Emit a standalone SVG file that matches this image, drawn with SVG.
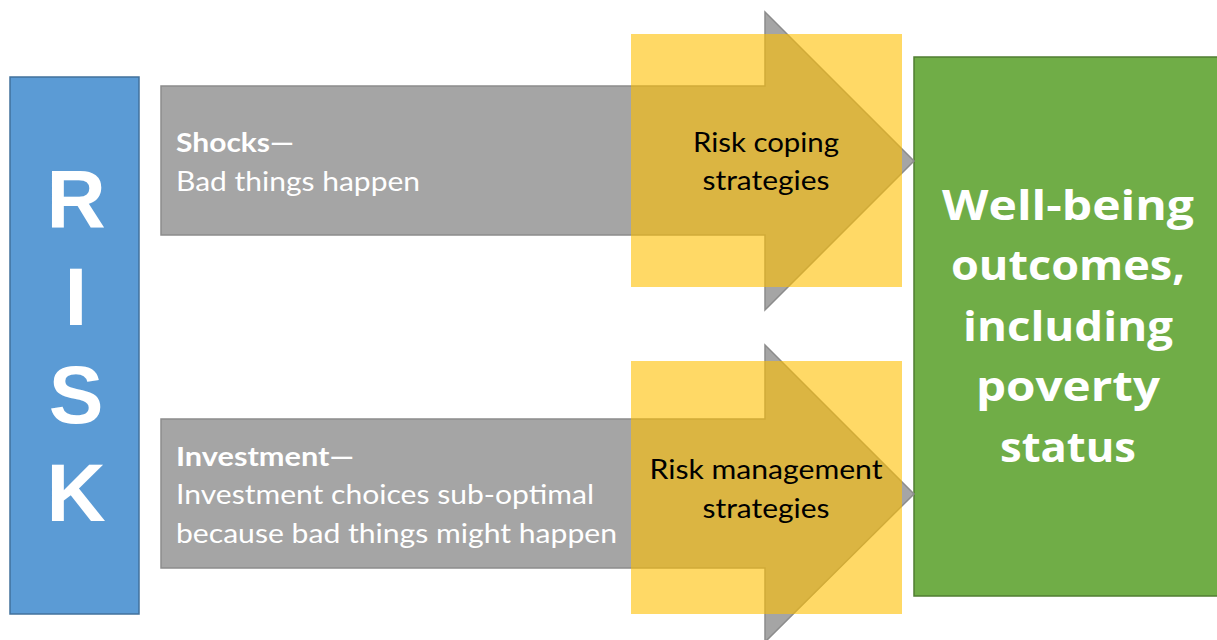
<svg xmlns="http://www.w3.org/2000/svg" width="1217" height="640" viewBox="0 0 1217 640">
<style>
.arrow{fill:#A5A5A5;stroke:#8C8C8C;stroke-width:1.5}
.box{fill:#FFC000;fill-opacity:0.6}
.body{font-family:Lato,"Open Sans","Liberation Sans",sans-serif;font-size:26px;fill:#FFFFFF}
.bold{font-weight:bold}
.dark{font-family:Lato,"Open Sans","Liberation Sans",sans-serif;font-size:26px;fill:#000000;text-anchor:middle}
.risk{font-family:"Liberation Sans",Arial,sans-serif;font-weight:bold;font-size:82px;fill:#FFFFFF;text-anchor:middle}
.out{font-family:"Open Sans","Liberation Sans",sans-serif;font-weight:bold;font-size:42px;fill:#FFFFFF;text-anchor:middle}
</style>
<rect width="1217" height="640" fill="#FFFFFF"/>
<g id="risk">
<rect x="10" y="77" width="129" height="537" fill="#5B9BD5" stroke="#41719C" stroke-width="1.5"/>
<text class="risk" x="76" y="227">R</text>
<text class="risk" x="76" y="325">I</text>
<text class="risk" x="76" y="423">S</text>
<text class="risk" x="76" y="521">K</text>
</g>
<g id="outcome">
<rect x="914" y="57" width="310" height="539" fill="#70AD47" stroke="#507E32" stroke-width="1.5"/>
<text class="out" x="1068" y="220" textLength="252" lengthAdjust="spacingAndGlyphs">Well-being</text>
<text class="out" x="1068" y="280" textLength="234" lengthAdjust="spacingAndGlyphs">outcomes,</text>
<text class="out" x="1068" y="341" textLength="210" lengthAdjust="spacingAndGlyphs">including</text>
<text class="out" x="1068" y="401" textLength="184" lengthAdjust="spacingAndGlyphs">poverty</text>
<text class="out" x="1068" y="462" textLength="136" lengthAdjust="spacingAndGlyphs">status</text>
</g>
<g id="connectors">
<path id="shocks-arrow" class="arrow" d="M161,86 H765 V12 L914,161 L765,310 V235 H161 Z"/>
<path id="investment-arrow" class="arrow" d="M161,419 H765 V345 L914,494 L765,642 V568 H161 Z"/>
</g>
<g id="shocks">
<text class="body bold" x="176" y="152" textLength="118" lengthAdjust="spacingAndGlyphs">Shocks—</text>
<text class="body" x="176" y="191" textLength="244" lengthAdjust="spacingAndGlyphs">Bad things happen</text>
</g>
<g id="investment">
<text class="body bold" x="176" y="466" textLength="178" lengthAdjust="spacingAndGlyphs">Investment—</text>
<text class="body" x="176" y="504" textLength="418" lengthAdjust="spacingAndGlyphs">Investment choices sub-optimal</text>
<text class="body" x="176" y="543" textLength="441" lengthAdjust="spacingAndGlyphs">because bad things might happen</text>
</g>
<g id="coping">
<rect class="box" x="631" y="34" width="271" height="253"/>
<text class="dark" x="766" y="152" textLength="146" lengthAdjust="spacingAndGlyphs">Risk coping</text>
<text class="dark" x="766" y="190" textLength="127" lengthAdjust="spacingAndGlyphs">strategies</text>
</g>
<g id="management">
<rect class="box" x="631" y="361" width="271" height="253"/>
<text class="dark" x="766" y="479" textLength="233" lengthAdjust="spacingAndGlyphs">Risk management</text>
<text class="dark" x="766" y="518" textLength="127" lengthAdjust="spacingAndGlyphs">strategies</text>
</g>
</svg>
